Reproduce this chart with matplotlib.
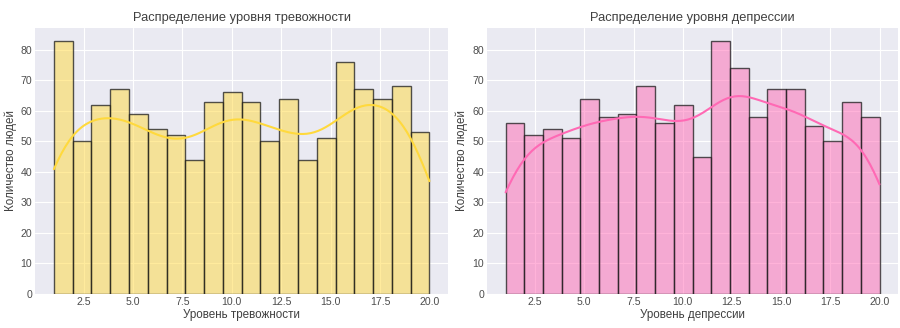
import numpy as np
import matplotlib
matplotlib.use("Agg")
import matplotlib.pyplot as plt
import seaborn as sns

levels = list(range(1, 21))
anxiety_counts = [83, 50, 62, 67, 59, 54, 52, 44, 63, 66, 63, 50, 64, 44, 51, 76, 67, 64, 68, 53]
depression_counts = [56, 52, 54, 51, 64, 58, 59, 68, 56, 62, 45, 83, 74, 58, 67, 67, 55, 50, 63, 58]

titles = ["Распределение уровня тревожности", "Распределение уровня депрессии"]
xlabels = ["Уровень тревожности", "Уровень депрессии"]
ylabel = "Количество людей"
colors = ["#FFD93D", "#FF69B4"]

plt.style.use("seaborn-v0_8-darkgrid")
plt.rcParams["font.family"] = ["Liberation Sans", "DejaVu Sans"]
plt.rcParams["text.color"] = "0.25"
plt.rcParams["axes.labelcolor"] = "0.25"
plt.rcParams["xtick.color"] = "0.3"
plt.rcParams["ytick.color"] = "0.3"

fig = plt.figure(figsize=(9, 3.28), dpi=100)
ax1 = fig.add_axes([0.039, 0.104, 0.459, 0.811])
ax2 = fig.add_axes([0.541, 0.104, 0.457, 0.811])

for ax, counts, title, xl, c in zip([ax1, ax2], [anxiety_counts, depression_counts],
                                    titles, xlabels, colors):
    data = np.repeat(levels, counts)
    sns.histplot(x=data, bins=20, kde=True, color=c, alpha=0.5,
                 edgecolor=(0.1, 0.1, 0.1, 0.75), linewidth=1.0, ax=ax,
                 line_kws={"linewidth": 1.5})
    ax.set_title(title, fontsize=9.3, pad=5)
    ax.set_xlabel(xl, fontsize=8.4, labelpad=2)
    ax.set_ylabel(ylabel, fontsize=8.4, labelpad=3)
    ax.tick_params(labelsize=7.6, pad=2)

fig.savefig("out.png", dpi=100)
